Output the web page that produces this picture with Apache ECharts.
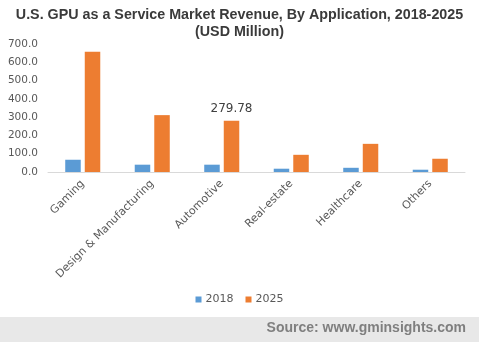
<!DOCTYPE html>
<html>
<head>
<meta charset="utf-8">
<script src="https://cdn.jsdelivr.net/npm/echarts@6/dist/echarts.min.js"></script>
<style>
  html, body { margin: 0; padding: 0; background: #fff; }
  #chart { width: 479px; height: 342px; }
</style>
</head>
<body>
<div id="chart"></div>
<script>
// Market revenue by application (USD Million)
const categories = ['Gaming', 'Design & Manufacturing', 'Automotive', 'Real-estate', 'Healthcare', 'Others'];
const values2018 = [67, 40, 40, 18, 23, 12.5];
const values2025 = [658, 311, 279.78, 94, 154, 72.5];
const yTicks = [0, 100, 200, 300, 400, 500, 600, 700];
const seriesNames = ['2018', '2025'];
const labelledCategory = 'Automotive';

const chart = echarts.init(document.getElementById('chart'));

chart.setOption({
  animation: false,
  title: {
    text: 'U.S. GPU as a Service Market Revenue, By Application, 2018-2025\n(USD Million)',
    left: 'center',
    top: 2,
    textStyle: {
      fontFamily: 'Liberation Sans',
      fontWeight: 'bold',
      fontSize: 14.3,
      color: '#3a3a3a',
      lineHeight: 16.5
    }
  },
  legend: {
    data: seriesNames,
    top: 289,
    left: 'center',
    itemWidth: 6,
    itemHeight: 6,
    itemGap: 12,
    icon: 'rect',
    textStyle: { fontFamily: 'DejaVu Sans', fontSize: 11, color: '#595959', padding: [0, 0, 0, -1] }
  },
  grid: { left: 48, right: 14, top: 44, bottom: 170, containLabel: false },
  xAxis: {
    type: 'category',
    data: categories,
    axisLine: { lineStyle: { color: '#d9d9d9' } },
    axisTick: { show: false },
    axisLabel: {
      interval: 0,
      rotate: 45,
      fontFamily: 'DejaVu Sans',
      fontSize: 11,
      color: '#595959',
      margin: 10
    }
  },
  yAxis: {
    type: 'value',
    min: yTicks[0],
    max: yTicks[yTicks.length - 1],
    interval: 100,
    splitLine: { show: false },
    axisLine: { show: false },
    axisTick: { show: false },
    axisLabel: {
      fontFamily: 'DejaVu Sans',
      fontSize: 10.5,
      color: '#595959',
      margin: 10,
      formatter: v => v.toFixed(1)
    }
  },
  series: [
    {
      name: seriesNames[0],
      type: 'bar',
      data: values2018,
      barWidth: 15.5,
      barGap: '26%',
      itemStyle: { color: '#5b9bd5' }
    },
    {
      name: seriesNames[1],
      type: 'bar',
      data: values2025.map((v, i) => categories[i] === labelledCategory
        ? { value: v, label: { show: true, position: 'top', distance: 6, formatter: p => String(p.value), fontFamily: 'DejaVu Sans', fontSize: 12, color: '#404040' } }
        : v),
      barWidth: 15.5,
      itemStyle: { color: '#ed7d31' }
    }
  ],
  graphic: [
    {
      type: 'rect',
      left: 0,
      top: 317,
      shape: { width: 479, height: 25 },
      style: { fill: '#e8e8e8' },
      silent: true
    },
    {
      type: 'text',
      right: 13,
      top: 321,
      style: {
        text: 'Source: www.gminsights.com',
        font: 'bold 14px "Liberation Sans"',
        fill: '#7f7f7f'
      }
    }
  ]
});
</script>
</body>
</html>
